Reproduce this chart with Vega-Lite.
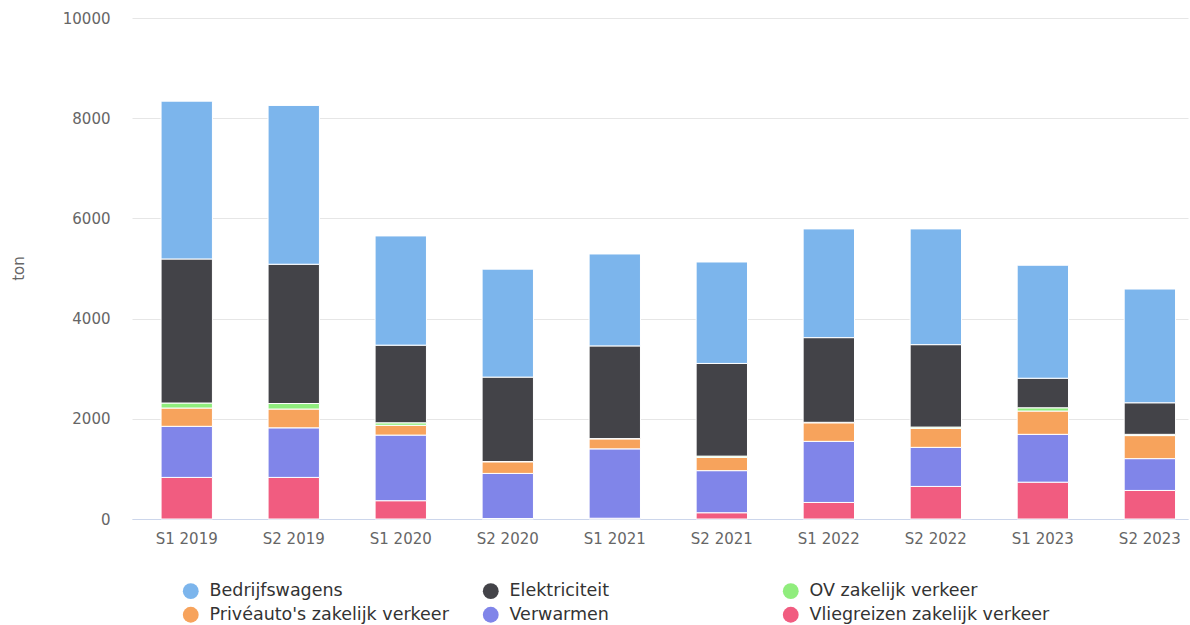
{
  "$schema": "https://vega.github.io/schema/vega-lite/v6.json",
  "width": 1056,
  "height": 501,
  "autosize": {"type": "none"},
  "padding": {"left": 132, "top": 18, "right": 2, "bottom": 106},
  "background": "#ffffff",
  "config": {
    "font": "DejaVu Sans",
    "view": {"stroke": null}
  },
  "data": {
    "values": [
      {"periode": "S1 2019", "bron": "Vliegreizen zakelijk verkeer", "ton": 830},
      {"periode": "S1 2019", "bron": "Verwarmen", "ton": 1020},
      {"periode": "S1 2019", "bron": "Privéauto's zakelijk verkeer", "ton": 365},
      {"periode": "S1 2019", "bron": "OV zakelijk verkeer", "ton": 100},
      {"periode": "S1 2019", "bron": "Elektriciteit", "ton": 2875},
      {"periode": "S1 2019", "bron": "Bedrijfswagens", "ton": 3150},
      {"periode": "S2 2019", "bron": "Vliegreizen zakelijk verkeer", "ton": 830},
      {"periode": "S2 2019", "bron": "Verwarmen", "ton": 990},
      {"periode": "S2 2019", "bron": "Privéauto's zakelijk verkeer", "ton": 375},
      {"periode": "S2 2019", "bron": "OV zakelijk verkeer", "ton": 110},
      {"periode": "S2 2019", "bron": "Elektriciteit", "ton": 2780},
      {"periode": "S2 2019", "bron": "Bedrijfswagens", "ton": 3170},
      {"periode": "S1 2020", "bron": "Vliegreizen zakelijk verkeer", "ton": 365},
      {"periode": "S1 2020", "bron": "Verwarmen", "ton": 1310},
      {"periode": "S1 2020", "bron": "Privéauto's zakelijk verkeer", "ton": 195},
      {"periode": "S1 2020", "bron": "OV zakelijk verkeer", "ton": 50},
      {"periode": "S1 2020", "bron": "Elektriciteit", "ton": 1550},
      {"periode": "S1 2020", "bron": "Bedrijfswagens", "ton": 2180},
      {"periode": "S2 2020", "bron": "Vliegreizen zakelijk verkeer", "ton": 10},
      {"periode": "S2 2020", "bron": "Verwarmen", "ton": 900},
      {"periode": "S2 2020", "bron": "Privéauto's zakelijk verkeer", "ton": 232},
      {"periode": "S2 2020", "bron": "OV zakelijk verkeer", "ton": 5},
      {"periode": "S2 2020", "bron": "Elektriciteit", "ton": 1685},
      {"periode": "S2 2020", "bron": "Bedrijfswagens", "ton": 2155},
      {"periode": "S1 2021", "bron": "Vliegreizen zakelijk verkeer", "ton": 15},
      {"periode": "S1 2021", "bron": "Verwarmen", "ton": 1385},
      {"periode": "S1 2021", "bron": "Privéauto's zakelijk verkeer", "ton": 200},
      {"periode": "S1 2021", "bron": "OV zakelijk verkeer", "ton": 5},
      {"periode": "S1 2021", "bron": "Elektriciteit", "ton": 1850},
      {"periode": "S1 2021", "bron": "Bedrijfswagens", "ton": 1835},
      {"periode": "S2 2021", "bron": "Vliegreizen zakelijk verkeer", "ton": 125},
      {"periode": "S2 2021", "bron": "Verwarmen", "ton": 840},
      {"periode": "S2 2021", "bron": "Privéauto's zakelijk verkeer", "ton": 265},
      {"periode": "S2 2021", "bron": "OV zakelijk verkeer", "ton": 25},
      {"periode": "S2 2021", "bron": "Elektriciteit", "ton": 1850},
      {"periode": "S2 2021", "bron": "Bedrijfswagens", "ton": 2025},
      {"periode": "S1 2022", "bron": "Vliegreizen zakelijk verkeer", "ton": 330},
      {"periode": "S1 2022", "bron": "Verwarmen", "ton": 1220},
      {"periode": "S1 2022", "bron": "Privéauto's zakelijk verkeer", "ton": 370},
      {"periode": "S1 2022", "bron": "OV zakelijk verkeer", "ton": 10},
      {"periode": "S1 2022", "bron": "Elektriciteit", "ton": 1690},
      {"periode": "S1 2022", "bron": "Bedrijfswagens", "ton": 2170},
      {"periode": "S2 2022", "bron": "Vliegreizen zakelijk verkeer", "ton": 650},
      {"periode": "S2 2022", "bron": "Verwarmen", "ton": 780},
      {"periode": "S2 2022", "bron": "Privéauto's zakelijk verkeer", "ton": 380},
      {"periode": "S2 2022", "bron": "OV zakelijk verkeer", "ton": 25},
      {"periode": "S2 2022", "bron": "Elektriciteit", "ton": 1645},
      {"periode": "S2 2022", "bron": "Bedrijfswagens", "ton": 2310},
      {"periode": "S1 2023", "bron": "Vliegreizen zakelijk verkeer", "ton": 735},
      {"periode": "S1 2023", "bron": "Verwarmen", "ton": 955},
      {"periode": "S1 2023", "bron": "Privéauto's zakelijk verkeer", "ton": 465},
      {"periode": "S1 2023", "bron": "OV zakelijk verkeer", "ton": 65},
      {"periode": "S1 2023", "bron": "Elektriciteit", "ton": 590},
      {"periode": "S1 2023", "bron": "Bedrijfswagens", "ton": 2255},
      {"periode": "S2 2023", "bron": "Vliegreizen zakelijk verkeer", "ton": 570},
      {"periode": "S2 2023", "bron": "Verwarmen", "ton": 635},
      {"periode": "S2 2023", "bron": "Privéauto's zakelijk verkeer", "ton": 460},
      {"periode": "S2 2023", "bron": "OV zakelijk verkeer", "ton": 25},
      {"periode": "S2 2023", "bron": "Elektriciteit", "ton": 630},
      {"periode": "S2 2023", "bron": "Bedrijfswagens", "ton": 2270}
    ]
  },
  "mark": {"type": "bar", "stroke": "#ffffff", "strokeWidth": 1},
  "encoding": {
    "x": {
      "field": "periode",
      "type": "nominal",
      "sort": null,
      "scale": {"paddingInner": 0.52, "paddingOuter": 0.194, "align": 0.7},
      "axis": {
        "title": null,
        "labelAngle": 0,
        "labelFontSize": 15,
        "labelColor": "#666666",
        "labelPadding": 12,
        "ticks": false,
        "domainColor": "#ccd6eb",
        "domainWidth": 1,
        "grid": false
      }
    },
    "y": {
      "field": "ton",
      "type": "quantitative",
      "aggregate": "sum",
      "scale": {"domain": [0, 10000], "nice": false},
      "axis": {
        "title": "ton",
        "values": [0, 2000, 4000, 6000, 8000, 10000],
        "format": "d",
        "labelFontSize": 15,
        "labelColor": "#666666",
        "labelPadding": 22,
        "ticks": false,
        "domain": false,
        "gridColor": "#e6e6e6",
        "gridWidth": 1,
        "titleFontSize": 15,
        "titleFontWeight": "normal",
        "titleColor": "#666666",
        "titleX": -114,
        "titleY": 250,
        "titleAngle": 270,
        "titleAlign": "center",
        "titleBaseline": "middle"
      }
    },
    "color": {
      "field": "bron",
      "type": "nominal",
      "scale": {
        "domain": ["Bedrijfswagens", "Elektriciteit", "OV zakelijk verkeer", "Privéauto's zakelijk verkeer", "Verwarmen", "Vliegreizen zakelijk verkeer"],
        "range": ["#7cb5ec", "#434348", "#90ed7d", "#f7a35c", "#8085e9", "#f15c80"]
      },
      "legend": {
        "title": null,
        "orient": "none",
        "legendX": 50,
        "legendY": 564,
        "direction": "horizontal",
        "columns": 3,
        "gridAlign": "all",
        "columnPadding": 32,
        "rowPadding": 5,
        "symbolType": "circle",
        "symbolSize": 250,
        "symbolStrokeWidth": 0,
        "symbolOpacity": 1,
        "labelFontSize": 17.5,
        "labelColor": "#333333",
        "labelOffset": 10,
        "labelLimit": 400
      }
    },
    "order": {"field": "bron", "sort": "descending"}
  }
}
